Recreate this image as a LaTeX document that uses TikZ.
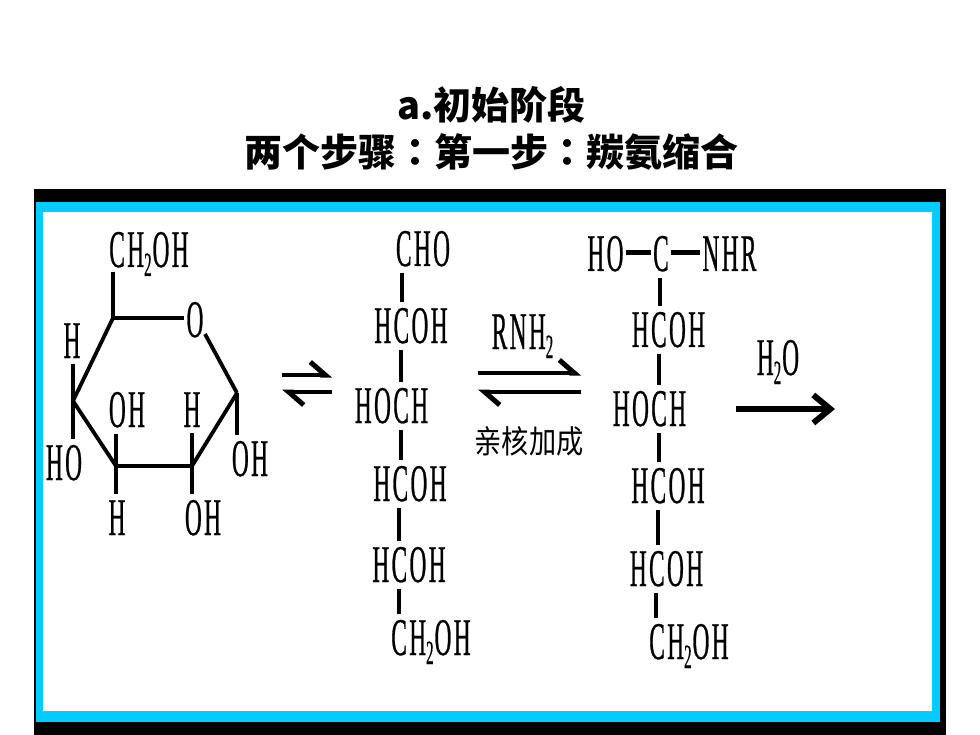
\documentclass[tikz,border=0pt]{standalone}
\usepackage{fontspec}
\usepackage{xcolor}
\usetikzlibrary{arrows.meta}
\newfontfamily\cjkfont{Noto Sans CJK SC}
\newfontfamily\cjktcfont{Noto Sans CJK TC}
\newfontfamily\addfont{Noto Sans CJK SC}[FakeStretch=0.85]
\newfontfamily\chemfont{Liberation Serif}[FakeStretch=0.44,LetterSpace=4.5,FakeBold=0.5]
\newcommand{\chemsub}[1]{\raisebox{-9pt}{\fontsize{34}{34}\selectfont #1}\kern1pt}
\definecolor{framecyan}{RGB}{0,204,255}
\tikzstyle{titlelabel} = [font=\cjkfont\bfseries\fontsize{38}{38}\selectfont, inner sep=0pt]
\tikzstyle{chemlabel} = [font=\chemfont\fontsize{53}{53}\selectfont, inner xsep=2pt, inner ysep=6pt, anchor=base]
\tikzstyle{bond} = [line width=3.8pt]
\tikzstyle{eqarrow} = [line width=4pt,-{Straight Barb[left,length=15pt,width=26pt,line width=5pt]}]
\begin{document}
\begin{tikzpicture}[x=1pt,y=-1pt]
\useasboundingbox (0,0) rectangle (980,735);
% Frame
\fill[black] (34,189) rectangle (946,735);
\fill[framecyan] (36,202) rectangle (940,722);
\fill[white] (43,212) rectangle (932,711);

% Title
\node[titlelabel] (title1) at (491.5,105) {a.初始阶段};
\node[titlelabel] (title2) at (491.5,152) {两个步骤{\cjktcfont ：}第一步{\cjktcfont ：}羰氨缩合};

% Ring
\coordinate (ringa) at (113,318);
\coordinate (ringl) at (73,401);
\coordinate (ringbl) at (116,466);
\coordinate (ringbr) at (192,466);
\coordinate (ringr) at (237,393);
\coordinate (ringt) at (113,272);
\coordinate (ringo) at (205,334);
\node[chemlabel] (rch2oh) at (149,267) {CH\chemsub{2}OH};
\node[chemlabel] (ro) at (195,337) {O};
\node[chemlabel] (rh1) at (72,358) {H};
\node[chemlabel] (roh1) at (127,427) {OH};
\node[chemlabel] (rh2) at (192,427) {H};
\node[chemlabel] (rho) at (64,480) {HO};
\node[chemlabel] (roh2) at (250,476) {OH};
\node[chemlabel] (rh3) at (117,535) {H};
\node[chemlabel] (roh3) at (203,535) {OH};

\draw[bond] (ringt) -- (ringa);
\draw[bond] (ringa) -- (ringa -| ro.west);
\draw[bond] (ringo) -- (ringr);
\draw[bond] (ringr) -- (ringbr);
\draw[bond, line width=4.5pt] (ringbr) -- (ringbl);
\draw[bond] (ringbl) -- (ringl);
\draw[bond] (ringl) -- (ringa);
\draw[bond] (rh1.south -| ringl) -- (rho.north -| ringl);
\draw[bond] (ringr) -- (roh2.north -| ringr);
\draw[bond] (roh1.south -| ringbl) -- (rh3.north -| ringbl);
\draw[bond] (rh2.south -| ringbr) -- (roh3.north -| ringbr);

% Open chain
\coordinate (sa1) at (402,0);
\coordinate (sa2) at (401,0);
\coordinate (sa3) at (399,0);
\node[chemlabel] (acho) at (423,266) {CHO};
\node[chemlabel] (ac2) at (411,343) {HCOH};
\node[chemlabel] (ac3) at (391.5,423) {HOCH};
\node[chemlabel] (ac4) at (410,501) {HCOH};
\node[chemlabel] (ac5) at (409,582) {HCOH};
\node[chemlabel] (ac6) at (431,655) {CH\chemsub{2}OH};

\draw[bond] (acho.south -| sa1) -- (ac2.north -| sa1);
\draw[bond] (ac2.south -| sa2) -- (ac3.north -| sa2);
\draw[bond] (ac3.south -| sa2) -- (ac4.north -| sa2);
\draw[bond] (ac4.south -| sa3) -- (ac5.north -| sa3);
\draw[bond] (ac5.south -| sa3) -- (ac6.north -| sa3);

% Product chain
\coordinate (sb1) at (660,0);
\coordinate (sb2) at (659,0);
\coordinate (sb3) at (658,0);
\coordinate (sb4) at (656,0);
\node[chemlabel] (bho) at (605.5,271) {HO};
\node[chemlabel] (bc1) at (661,271) {C};
\node[chemlabel] (bnhr) at (729.5,271) {NHR};
\node[chemlabel] (bc2) at (668.5,347) {HCOH};
\node[chemlabel] (bc3) at (649.5,426) {HOCH};
\node[chemlabel] (bc4) at (668,503) {HCOH};
\node[chemlabel] (bc5) at (666.5,586) {HCOH};
\node[chemlabel] (bc6) at (689,659) {CH\chemsub{2}OH};

\coordinate (bmid) at (0,253);
\draw[bond, line width=5pt] (bho.east |- bmid) -- (bc1.west |- bmid);
\draw[bond, line width=5pt] (bc1.east |- bmid) -- (bnhr.west |- bmid);
\draw[bond] (bc1.south -| sb1) -- (bc2.north -| sb1);
\draw[bond] (bc2.south -| sb2) -- (bc3.north -| sb2);
\draw[bond] (bc3.south -| sb2) -- (bc4.north -| sb2);
\draw[bond, line width=4.5pt] (bc4.south -| sb3) -- (bc5.north -| sb3);
\draw[bond] (bc5.south -| sb4) -- (bc6.north -| sb4);

% Arrows
\coordinate (e1a) at (282,375);
\coordinate (e1b) at (332,375);
\coordinate (e1c) at (332,392);
\coordinate (e1d) at (282,392);
\draw[eqarrow] (e1a) -- (e1b);
\draw[eqarrow] (e1c) -- (e1d);

\coordinate (e2a) at (478,373);
\coordinate (e2b) at (581,373);
\coordinate (e2c) at (581,392);
\coordinate (e2d) at (478,392);
\draw[eqarrow] (e2a) -- (e2b);
\draw[eqarrow] (e2c) -- (e2d);

\coordinate (wa) at (736,409);
\coordinate (wb) at (835,409);
\draw[line width=6.5pt,-{Straight Barb[length=17pt,width=28pt,line width=6pt]}] (wa) -- (wb);

% Labels
\node[chemlabel] (rnh2) at (523,349) {RNH\chemsub{2}};
\node[font=\addfont\fontsize{32}{32}\selectfont, inner sep=0pt] (addlabel) at (529,441) {亲核加成};
\node[chemlabel] (h2o) at (778,375) {H\chemsub{2}O};
\end{tikzpicture}
\end{document}
